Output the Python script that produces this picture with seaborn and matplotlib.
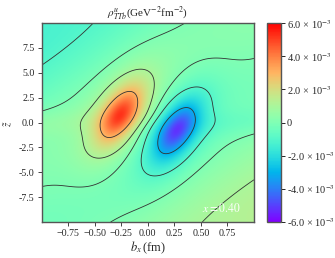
import numpy as np
import matplotlib
matplotlib.use("Agg")
import matplotlib.pyplot as plt
import seaborn as sns
from matplotlib.ticker import FuncFormatter, FormatStrFormatter, FixedLocator

# ---------------- chart data ----------------
bx_limits = [-1.0, 1.0]          # b_x (fm)
z_limits = [-10.0, 10.0]         # z~

# density components (positive side; each gets a point-mirrored negative twin)
comp_amplitude = [4.9926e-3, 1.075e-3, -2.1114e-3, -1.7435e-3]
comp_bx = [-0.2661, -3.8342, -1.0503, -0.235]
comp_z = [0.7372, -2.0514, 5.756, -7.6875]
comp_width_bx = [0.1331, 1.5787, 1.1447, 1.0368]
comp_width_z = [2.1795, 2.2219, 12.6996, 19.4667]
comp_shear = [0.0399, 1.3522, 0.1457, 0.1465]
core_tail = 2.72332

contour_levels = [-3e-3, -1e-3, 0.0, 1e-3, 3e-3]
color_limits = [-6e-3, 6e-3]
cbar_ticks = [-6e-3, -4e-3, -2e-3, 0.0, 2e-3, 4e-3, 6e-3]
x_ticks = [-0.75, -0.5, -0.25, 0.0, 0.25, 0.5, 0.75]
y_ticks = [-7.5, -5.0, -2.5, 0.0, 2.5, 5.0, 7.5]
title = r"$\rho^{u}_{TTb}$(GeV$^{-2}$fm$^{-2}$)"
x_label = r"$b_x\,$(fm)"
y_label = r"$\tilde{z}$"
annotation = "$x=0.40$"

# ---------------- density map ----------------
bx = np.linspace(bx_limits[0], bx_limits[1], 401)
zz = np.linspace(z_limits[0], z_limits[1], 401)
BX, ZZ = np.meshgrid(bx, zz)

rho = np.zeros_like(BX)
for k in range(len(comp_amplitude)):
    for sgn in (1, -1):
        v = ZZ - sgn * comp_z[k]
        u = (BX - sgn * comp_bx[k]) - comp_shear[k] * v
        q = (u / comp_width_bx[k]) ** 2 + (v / comp_width_z[k]) ** 2
        if k == 0:
            prof = (1 + q / (2 * core_tail)) ** (-core_tail)
        else:
            prof = np.exp(-q / 2)
        rho += sgn * comp_amplitude[k] * prof

# ---------------- plotting ----------------
sns.set_style("ticks")
plt.rcParams["font.family"] = ["Liberation Serif", "DejaVu Serif"]
plt.rcParams["mathtext.fontset"] = "stix"

fig = plt.figure(figsize=(3.35, 2.58), dpi=100)
ax = fig.add_axes([0.124, 0.1395, 0.634, 0.771])
cax = fig.add_axes([0.797, 0.1395, 0.042, 0.771])

cmap = sns.color_palette("rainbow", as_cmap=True)
im = ax.imshow(rho, extent=[bx_limits[0], bx_limits[1], z_limits[0], z_limits[1]],
               origin="lower", aspect="auto", cmap=cmap,
               vmin=color_limits[0], vmax=color_limits[1])
ax.contour(BX, ZZ, rho, levels=contour_levels, colors="#333333",
           linewidths=0.6, linestyles="solid")

ax.set_xlim(bx_limits)
ax.set_ylim(z_limits)
ax.xaxis.set_major_locator(FixedLocator(x_ticks))
ax.yaxis.set_major_locator(FixedLocator(y_ticks))
ax.yaxis.set_major_formatter(FormatStrFormatter("%.1f"))
ax.tick_params(labelsize=7.2, length=3, width=0.7, color="#444444", pad=2)
for s in ax.spines.values():
    s.set_color("#555555")
    s.set_linewidth(1.0)

ax.set_xlabel(x_label, fontsize=9, labelpad=1)
fig.text(9 / 335, 0.521, y_label, rotation=90, fontsize=8, ha="center", va="center")
ax.set_title(title, fontsize=8, pad=2)
ax.text(0.94, 0.07, annotation, transform=ax.transAxes, color="white",
        fontsize=8.5, ha="right", va="center")

cb = fig.colorbar(im, cax=cax)
cb.set_ticks(cbar_ticks)
cb.ax.yaxis.set_major_formatter(FuncFormatter(
    lambda v, pos: "0" if abs(v) < 1e-12 else "%.1f × 10$^{-3}$" % (v * 1e3)))
cb.ax.tick_params(labelsize=7.5, length=3, width=0.7, pad=1)
cb.outline.set_edgecolor("#555555")
cb.outline.set_linewidth(1.0)

fig.savefig("out.png", dpi=100)
